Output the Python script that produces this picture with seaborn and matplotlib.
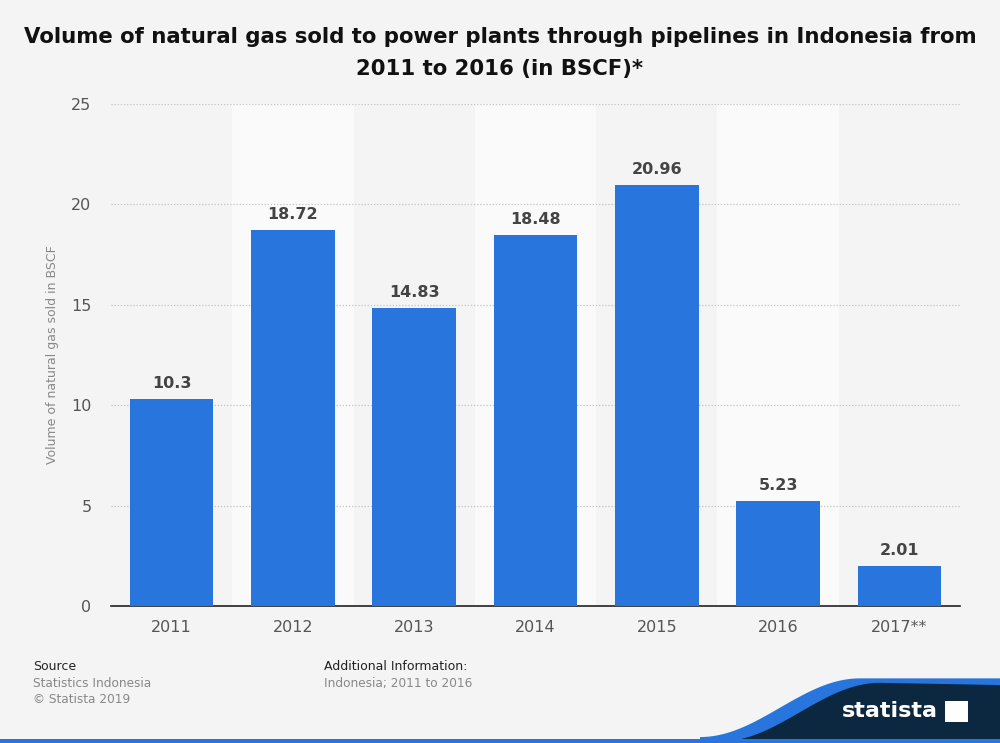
import matplotlib
matplotlib.use("Agg")
import matplotlib.pyplot as plt
import numpy as np
import pandas as pd
import seaborn as sns
from matplotlib.patches import Polygon, Rectangle

# 데이터
years = ["2011", "2012", "2013", "2014", "2015", "2016", "2017**"]
volume = [10.3, 18.72, 14.83, 18.48, 20.96, 5.23, 2.01]
labels = ["10.3", "18.72", "14.83", "18.48", "20.96", "5.23", "2.01"]

df = pd.DataFrame({"year": years, "volume": volume})

sns.set_theme(style="white")
plt.rcParams["font.family"] = ["DejaVu Sans"]

bg = "#f4f4f4"
fig = plt.figure(figsize=(10, 7.43), dpi=100, facecolor=bg)
ax = fig.add_axes([0.111, 0.1844, 0.849, 0.6756])
ax.set_facecolor(bg)

# 번갈아 있는 배경 띠
for i in range(len(years)):
    if i % 2 == 1:
        ax.axvspan(i - 0.5, i + 0.5, color="#fafafa", zorder=0, lw=0)

sns.barplot(data=df, x="year", y="volume", color="#2876dd", width=0.69,
            saturation=1, linewidth=0, ax=ax, zorder=3)

for i, (v, t) in enumerate(zip(volume, labels)):
    ax.text(i, v + 0.4, t, ha="center", va="bottom", fontsize=11.5,
            fontweight="bold", color="#444444")

ax.set_xlim(-0.5, len(years) - 0.5)
ax.set_ylim(0, 25)
ax.set_yticks([0, 5, 10, 15, 20, 25])
ax.yaxis.grid(True, linestyle=(0, (1, 1.5)), color="#c4c4c4", lw=0.9, zorder=1)
ax.set_axisbelow(True)
for s in ["top", "right", "left"]:
    ax.spines[s].set_visible(False)
ax.spines["bottom"].set_color("#222222")
ax.spines["bottom"].set_linewidth(1.2)
ax.tick_params(axis="both", length=0, labelsize=11.5, colors="#555555", pad=10)
ax.tick_params(axis="y", pad=14)
ax.set_xlabel("")
ax.set_ylabel("Volume of natural gas sold in BSCF", fontsize=9, color="#888888", labelpad=9)

fig.text(0.5, 0.964, "Volume of natural gas sold to power plants through pipelines in Indonesia from\n2011 to 2016 (in BSCF)*",
         ha="center", va="top", fontsize=15.3, fontweight="bold", color="#111111", linespacing=1.75)

# 하단 정보
fig.text(0.033, 0.098, "Source", fontsize=9, color="#222222")
fig.text(0.033, 0.076, "Statistics Indonesia", fontsize=8.7, color="#888888")
fig.text(0.033, 0.054, "© Statista 2019", fontsize=8.7, color="#888888")
fig.text(0.324, 0.098, "Additional Information:", fontsize=9, color="#222222")
fig.text(0.324, 0.076, "Indonesia; 2011 to 2016", fontsize=8.7, color="#888888")

# statista 로고 영역
xs = np.linspace(0.70, 0.86, 50)
curve_top = 0.004 + (0.083 - 0.004) * (1 - np.cos(np.pi * (xs - 0.70) / 0.16)) / 2
blue_pts = [(0.70, 0.0)] + list(zip(xs, curve_top + 0.004)) + [(1.0, 0.087), (1.0, 0.0)]
fig.patches.append(Polygon(blue_pts, closed=True, transform=fig.transFigure,
                           facecolor="#2876dd", edgecolor="none"))
dark_pts = [(0.72, 0.0)] + list(zip(xs + 0.02, curve_top - 0.002)) + [(1.0, 0.078), (1.0, 0.0)]
fig.patches.append(Polygon(dark_pts, closed=True, transform=fig.transFigure,
                           facecolor="#0c2740", edgecolor="none"))
fig.patches.append(Rectangle((0, 0), 1, 0.005, transform=fig.transFigure,
                             facecolor="#2876dd", edgecolor="none"))
fig.text(0.89, 0.043, "statista", ha="center", va="center", fontsize=16,
         fontweight="bold", color="white")
fig.patches.append(Rectangle((0.945, 0.028), 0.023, 0.029, transform=fig.transFigure,
                             facecolor="white", edgecolor="none"))

fig.savefig("out.png", dpi=100, facecolor=bg)
